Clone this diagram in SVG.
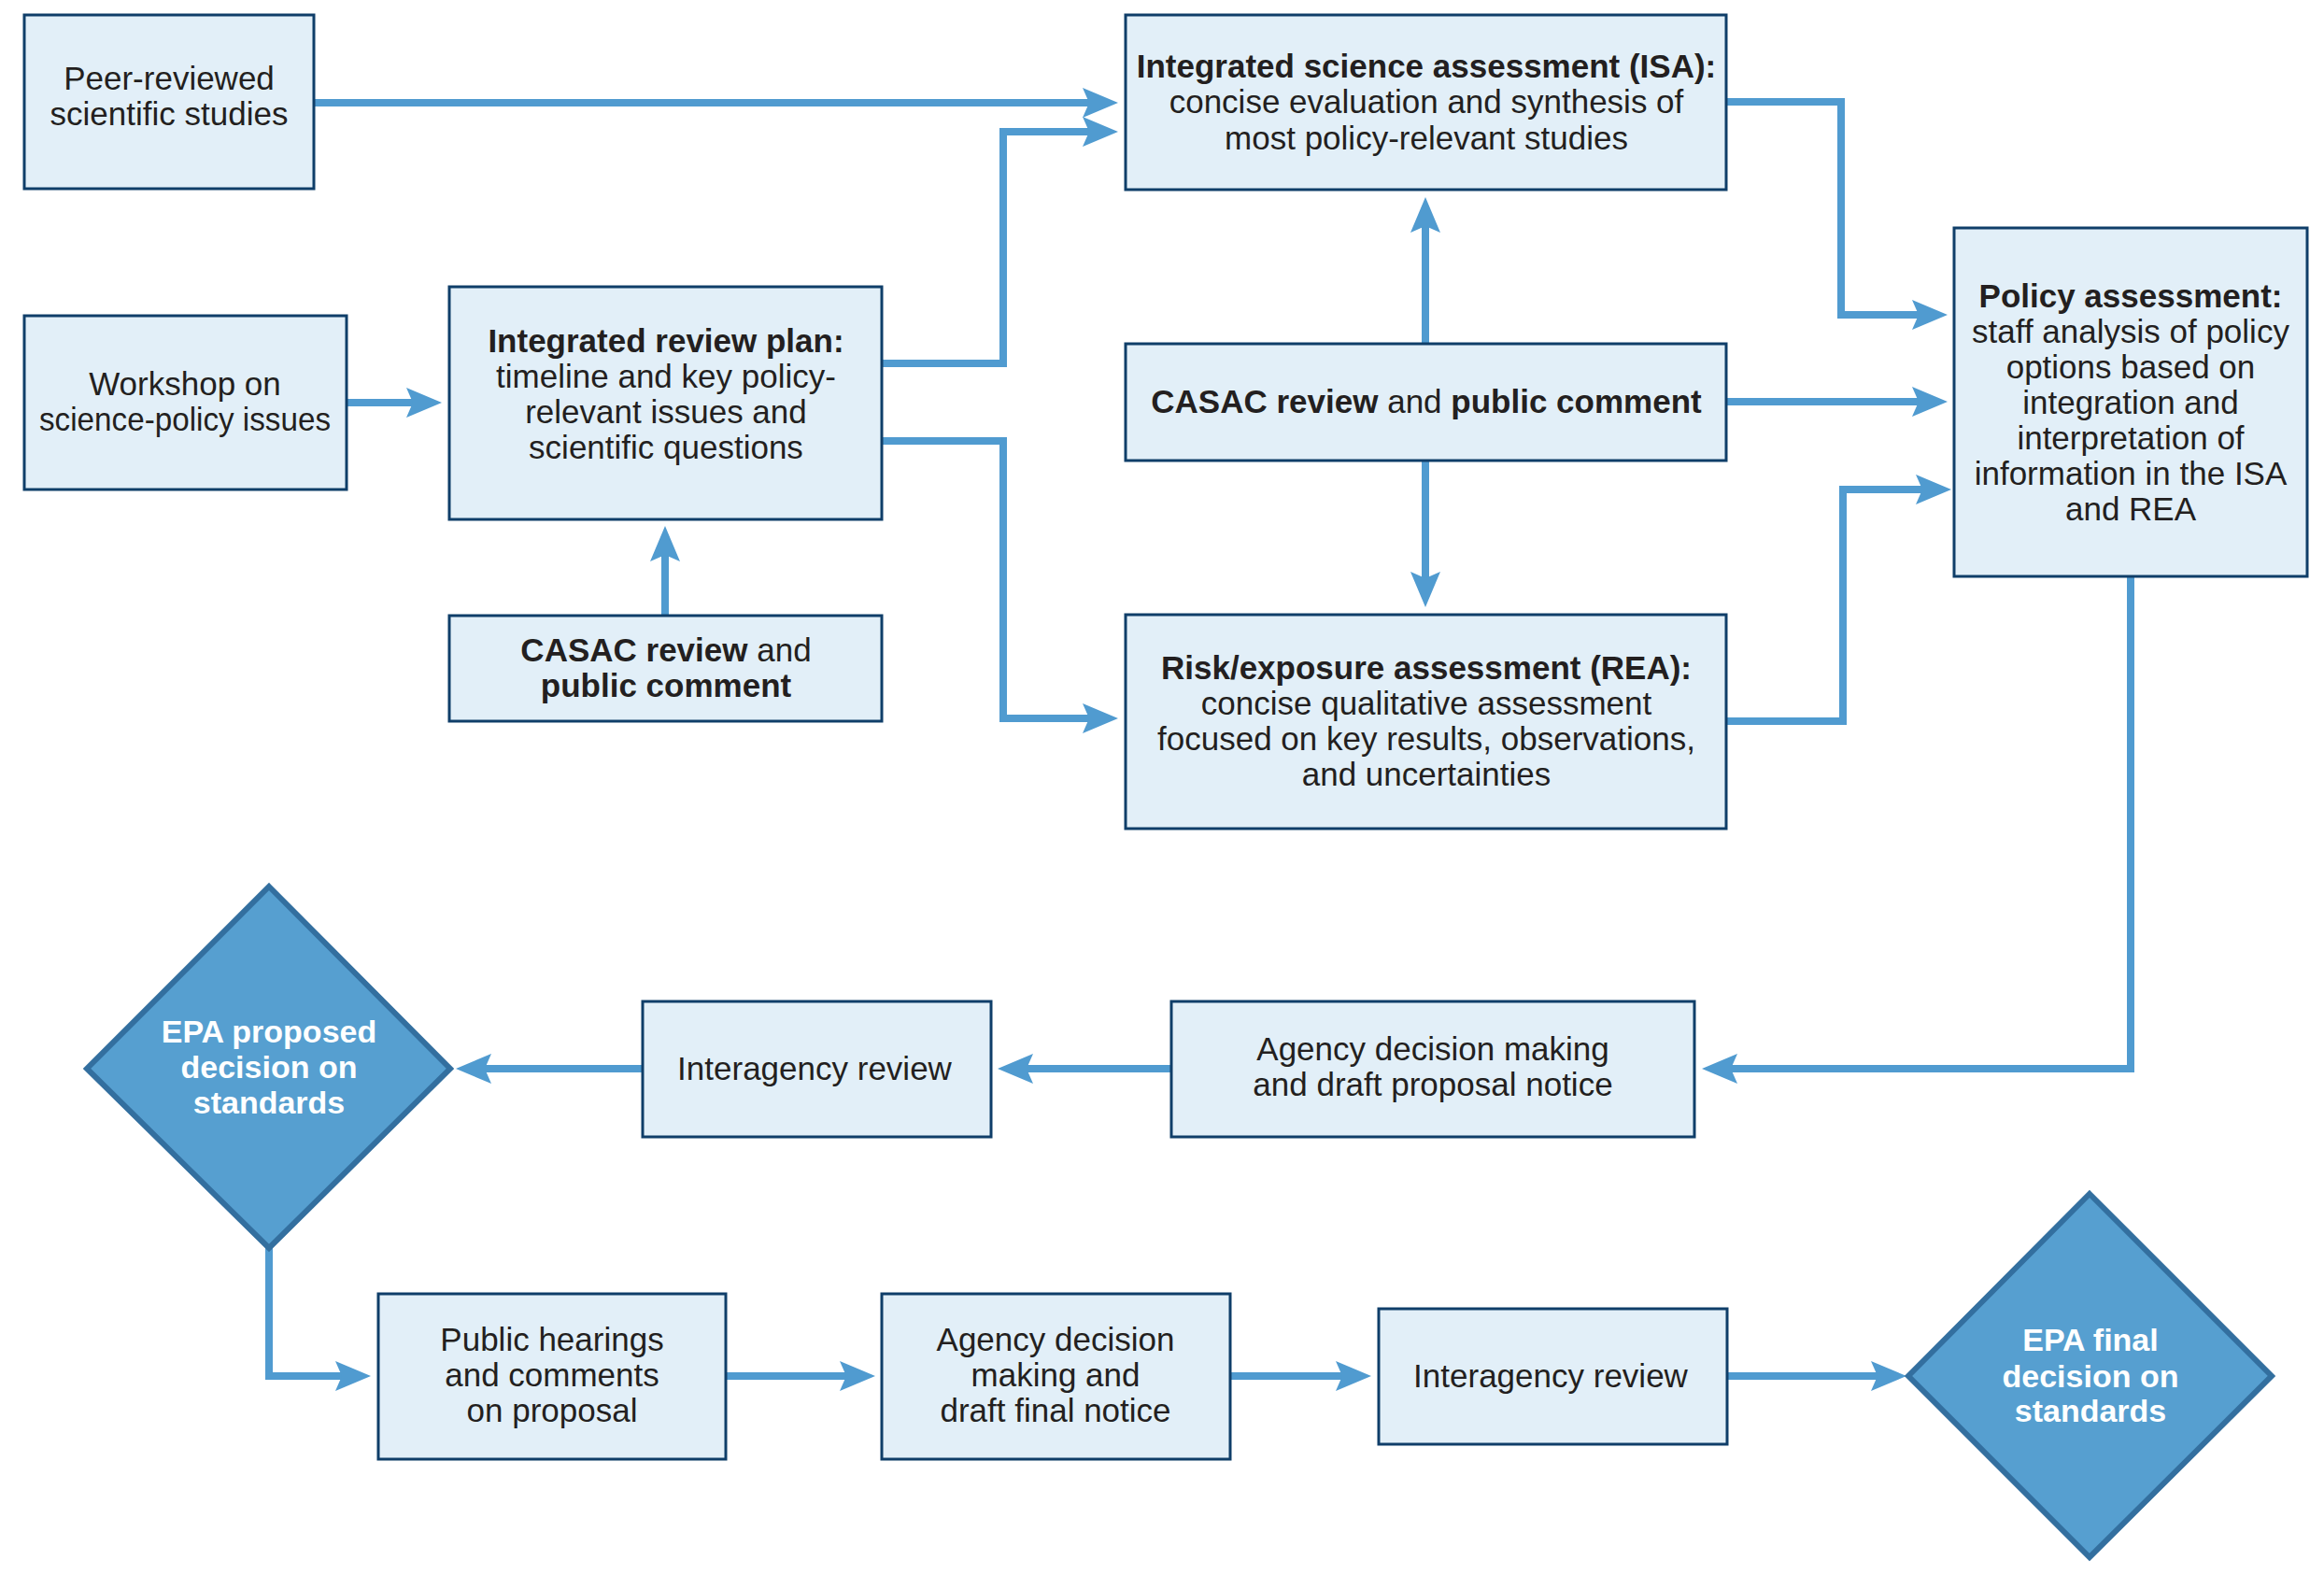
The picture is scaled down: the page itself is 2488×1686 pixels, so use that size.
<svg xmlns="http://www.w3.org/2000/svg" width="2488" height="1686" viewBox="0 0 2488 1686">
<style>
.box{fill:#e2eff8;stroke:#0f3e69;stroke-width:3}
.dia{fill:#569fd0;stroke:#336f9f;stroke-width:6;stroke-linejoin:miter}
.t{font-family:"Liberation Sans",Arial,sans-serif;font-size:35px;fill:#231f20;text-anchor:middle}
.b{font-weight:bold}
.w{font-family:"Liberation Sans",Arial,sans-serif;font-size:34px;font-weight:bold;fill:#ffffff;text-anchor:middle}
.c{fill:none;stroke:#509bd0;stroke-width:8;stroke-linejoin:miter;marker-end:url(#ah)}
</style>
<defs>
<marker id="ah" markerUnits="userSpaceOnUse" viewBox="0 -17 40 34" markerWidth="40" markerHeight="34" refX="7" refY="0" orient="auto">
<path d="M0,-16 L38,0 L0,16 L7,0 Z" fill="#509bd0"/>
</marker>
</defs>
<rect width="2488" height="1686" fill="#ffffff"/>
<g id="connectors">
<path class="c" d="M336,110 H1166"/>
<path class="c" d="M944,389 H1074 V141 H1166"/>
<path class="c" d="M944,472 H1074 V769 H1166"/>
<path class="c" d="M371,431 H442"/>
<path class="c" d="M712,659 V594"/>
<path class="c" d="M1526,368 V242"/>
<path class="c" d="M1526,493 V619"/>
<path class="c" d="M1848,109 H1971 V337 H2054"/>
<path class="c" d="M1848,430 H2054"/>
<path class="c" d="M1848,772 H1973 V524 H2058"/>
<path class="c" d="M2281,617 V1144 H1853"/>
<path class="c" d="M1254,1144 H1099"/>
<path class="c" d="M688,1144 H519"/>
<path class="c" d="M288,1336 V1473 H366"/>
<path class="c" d="M777,1473 H906"/>
<path class="c" d="M1317,1473 H1437"/>
<path class="c" d="M1849,1473 H2010"/>
</g>
<g id="peer">
<rect class="box" x="26" y="16" width="310" height="186"/>
<text class="t" x="181" y="96">Peer-reviewed</text>
<text class="t" x="181" y="134">scientific studies</text>
</g>
<g id="workshop">
<rect class="box" x="26" y="338" width="345" height="186"/>
<text class="t" x="198" y="423">Workshop on</text>
<text class="t" x="198" y="461" textLength="312" lengthAdjust="spacingAndGlyphs">science-policy issues</text>
</g>
<g id="irp">
<rect class="box" x="481" y="307" width="463" height="249"/>
<text class="t b" x="713" y="377">Integrated review plan:</text>
<text class="t" x="713" y="415">timeline and key policy-</text>
<text class="t" x="713" y="453">relevant issues and</text>
<text class="t" x="713" y="491">scientific questions</text>
</g>
<g id="casac1">
<rect class="box" x="481" y="659" width="463" height="113"/>
<text class="t" x="713" y="708"><tspan class="b">CASAC review</tspan> and</text>
<text class="t b" x="713" y="746">public comment</text>
</g>
<g id="isa">
<rect class="box" x="1205" y="16" width="643" height="187"/>
<text class="t b" x="1527" y="83">Integrated science assessment (ISA):</text>
<text class="t" x="1527" y="121">concise evaluation and synthesis of</text>
<text class="t" x="1527" y="160">most policy-relevant studies</text>
</g>
<g id="casac2">
<rect class="box" x="1205" y="368" width="643" height="125"/>
<text class="t" x="1527" y="442"><tspan class="b">CASAC review</tspan> and <tspan class="b">public comment</tspan></text>
</g>
<g id="rea">
<rect class="box" x="1205" y="658" width="643" height="229"/>
<text class="t b" x="1527" y="727">Risk/exposure assessment (REA):</text>
<text class="t" x="1527" y="765">concise qualitative assessment</text>
<text class="t" x="1527" y="803">focused on key results, observations,</text>
<text class="t" x="1527" y="841">and uncertainties</text>
</g>
<g id="policy">
<rect class="box" x="2092" y="244" width="378" height="373"/>
<text class="t b" x="2281" y="329">Policy assessment:</text>
<text class="t" x="2281" y="367">staff analysis of policy</text>
<text class="t" x="2281" y="405">options based on</text>
<text class="t" x="2281" y="443">integration and</text>
<text class="t" x="2281" y="481">interpretation of</text>
<text class="t" x="2281" y="519">information in the ISA</text>
<text class="t" x="2281" y="557">and REA</text>
</g>
<g id="agency1">
<rect class="box" x="1254" y="1072" width="560" height="145"/>
<text class="t" x="1534" y="1135">Agency decision making</text>
<text class="t" x="1534" y="1173">and draft proposal notice</text>
</g>
<g id="interagency1">
<rect class="box" x="688" y="1072" width="373" height="145"/>
<text class="t" x="872" y="1156">Interagency review</text>
</g>
<g id="epa-proposed">
<polygon class="dia" points="288,949 482,1144 288,1336 93,1144"/>
<text class="w" x="288" y="1116">EPA proposed</text>
<text class="w" x="288" y="1154">decision on</text>
<text class="w" x="288" y="1192">standards</text>
</g>
<g id="public">
<rect class="box" x="405" y="1385" width="372" height="177"/>
<text class="t" x="591" y="1446">Public hearings</text>
<text class="t" x="591" y="1484">and comments</text>
<text class="t" x="591" y="1522">on proposal</text>
</g>
<g id="agency2">
<rect class="box" x="944" y="1385" width="373" height="177"/>
<text class="t" x="1130" y="1446">Agency decision</text>
<text class="t" x="1130" y="1484">making and</text>
<text class="t" x="1130" y="1522">draft final notice</text>
</g>
<g id="interagency2">
<rect class="box" x="1476" y="1401" width="373" height="145"/>
<text class="t" x="1660" y="1485">Interagency review</text>
</g>
<g id="epa-final">
<polygon class="dia" points="2237,1278 2432,1473 2237,1667 2043,1473"/>
<text class="w" x="2238" y="1446">EPA final</text>
<text class="w" x="2238" y="1485">decision on</text>
<text class="w" x="2238" y="1522">standards</text>
</g>
</svg>
